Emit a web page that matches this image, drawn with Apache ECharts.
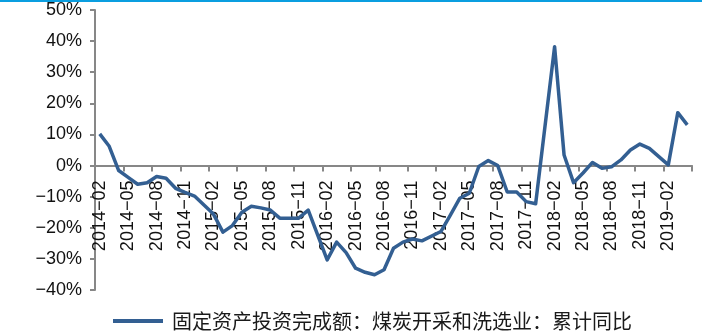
<!DOCTYPE html>
<html>
<head>
<meta charset="utf-8">
<script src="https://cdn.jsdelivr.net/npm/echarts@6/dist/echarts.min.js"></script>
<style>
  html, body { margin: 0; padding: 0; background: #ffffff; }
  #chart { width: 702px; height: 333px; }
</style>
</head>
<body>
<div id="chart"></div>
<script>
// Monthly categories (cumulative figures; January is not published, so it stays empty)
const months = [
  '2014-02','2014-03','2014-04','2014-05','2014-06','2014-07','2014-08','2014-09','2014-10','2014-11','2014-12',
  '2015-01','2015-02','2015-03','2015-04','2015-05','2015-06','2015-07','2015-08','2015-09','2015-10','2015-11','2015-12',
  '2016-01','2016-02','2016-03','2016-04','2016-05','2016-06','2016-07','2016-08','2016-09','2016-10','2016-11','2016-12',
  '2017-01','2017-02','2017-03','2017-04','2017-05','2017-06','2017-07','2017-08','2017-09','2017-10','2017-11','2017-12',
  '2018-01','2018-02','2018-03','2018-04','2018-05','2018-06','2018-07','2018-08','2018-09','2018-10','2018-11','2018-12',
  '2019-01','2019-02','2019-03','2019-04'
];

// Coal mining & washing fixed-asset investment, cumulative YoY (%)
const coalYoY = [
  10.2, 6.2, -1.6, -3.8, -6.0, -5.5, -3.5, -4.1, -7.3, -8.6, -9.8,
  null, -15.6, -21.4, -19.3, -15.0, -13.1, -13.6, -14.3, -16.9, -16.9, -16.9, -14.3,
  null, -30.3, -24.6, -28.0, -33.0, -34.3, -35.1, -33.5, -26.6, -24.6, -23.6, -24.2,
  null, -21.2, -15.9, -10.5, -8.9, -0.3, 1.6, 0.0, -8.5, -8.5, -11.6, -12.3,
  null, 38.2, 3.4, -5.5, -2.4, 1.0, -0.9, -0.4, 1.8, 5.0, 6.9, 5.5,
  null, 0.2, 17.0, 13.1
];

const seriesName = '固定资产投资完成额：煤炭开采和洗选业：累计同比';

// Value axis range (percent)
const yMin = -40;
const yMax = 50;
const yStep = 10;

const minus = '\u2212';
const axisGray = '#878787';
const chart = echarts.init(document.getElementById('chart'), null, { renderer: 'canvas' });

chart.setOption({
  backgroundColor: '#ffffff',
  animation: false,
  graphic: [
    {
      type: 'rect',
      left: 0, top: 0,
      shape: { width: 702, height: 2 },
      style: { fill: '#0a9ee0' },
      silent: true
    }
  ],
  grid: {
    left: 95, right: 10, top: 10, bottom: 43,
    containLabel: false,
    outerBoundsMode: 'none'
  },
  legend: {
    data: [seriesName],
    left: 108,
    top: 306,
    icon: 'rect',
    itemWidth: 50,
    itemHeight: 4,
    itemGap: 10,
    textStyle: {
      fontFamily: 'Noto Sans CJK SC',
      fontSize: 20,
      color: '#1a1a1a',
      padding: [0, 0, 0, 4]
    }
  },
  xAxis: {
    type: 'category',
    data: months,
    boundaryGap: true,
    position: 'bottom',
    offset: 0,
    axisLine: { show: true, onZero: false, lineStyle: { color: axisGray, width: 2 } },
    axisTick: {
      show: true,
      interval: 2,
      length: 6,
      inside: false,
      lineStyle: { color: axisGray, width: 2 }
    },
    axisLabel: {
      interval: 2,
      rotate: 90,
      margin: 15,
      fontFamily: 'Liberation Sans',
      fontSize: 18,
      color: '#111111',
      formatter: (s) => s.replace('-', minus)
    },
    splitLine: { show: false }
  },
  yAxis: {
    type: 'value',
    min: yMin,
    max: yMax,
    interval: yStep,
    axisLine: { show: true, lineStyle: { color: axisGray, width: 2 } },
    axisTick: { show: true, length: 5, lineStyle: { color: axisGray, width: 2 } },
    axisLabel: {
      margin: 13,
      fontFamily: 'Liberation Sans',
      fontSize: 18,
      color: '#111111',
      formatter: (v) => (v < 0 ? minus + Math.abs(v) : String(v)) + '%'
    },
    splitLine: { show: false }
  },
  series: [
    {
      name: seriesName,
      type: 'line',
      data: coalYoY,
      connectNulls: true,
      showSymbol: false,
      symbol: 'none',
      smooth: false,
      lineStyle: { color: '#335f92', width: 3.5, join: 'round' },
      itemStyle: { color: '#335f92' }
    }
  ]
});

// Lift the category axis so it crosses the value axis at 0%
const zeroPx = chart.convertToPixel({ yAxisIndex: 0 }, 0);
const basePx = chart.convertToPixel({ yAxisIndex: 0 }, yMin);
chart.setOption({ xAxis: { offset: zeroPx - basePx } });
</script>
</body>
</html>
